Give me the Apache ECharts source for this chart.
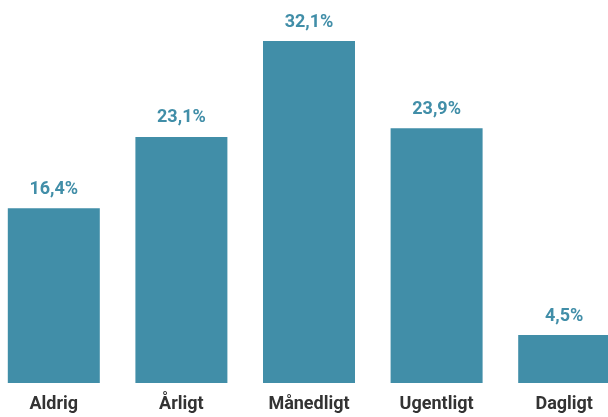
<!DOCTYPE html>
<html>
<head>
<meta charset="utf-8">
<script src="https://cdn.jsdelivr.net/npm/echarts@6/dist/echarts.min.js"></script>
<style>
  html, body { margin: 0; padding: 0; background: #fff; }
  #chart { width: 608px; height: 417px; }
</style>
</head>
<body>
<div id="chart"></div>
<script>
const categories = ['Aldrig', 'Årligt', 'Månedligt', 'Ugentligt', 'Dagligt']
const values = [16.4, 23.1, 32.1, 23.9, 4.5]

const chart = echarts.init(document.getElementById('chart'))

chart.setOption({
  animation: false,
  grid: { left: -10, right: -20, top: 41, bottom: 34, outerBoundsMode: 'none', containLabel: false },
  xAxis: {
    type: 'category',
    data: categories,
    axisLine: { show: false },
    axisTick: { show: false },
    axisLabel: {
      color: '#333333',
      fontFamily: 'Roboto, sans-serif',
      fontWeight: 'bold',
      fontSize: 18,
      margin: 12
    }
  },
  yAxis: {
    type: 'value',
    min: 0,
    max: 32.1,
    show: false
  },
  series: [
    {
      type: 'bar',
      data: values,
      barWidth: 92,
      itemStyle: { color: '#418ea8' },
      label: {
        show: true,
        position: 'top',
        distance: 10,
        color: '#418ea8',
        fontFamily: 'Roboto, sans-serif',
        fontWeight: 'bold',
        fontSize: 18,
        formatter: p => p.value.toFixed(1).replace('.', ',') + '%'
      }
    }
  ]
})
</script>
</body>
</html>
